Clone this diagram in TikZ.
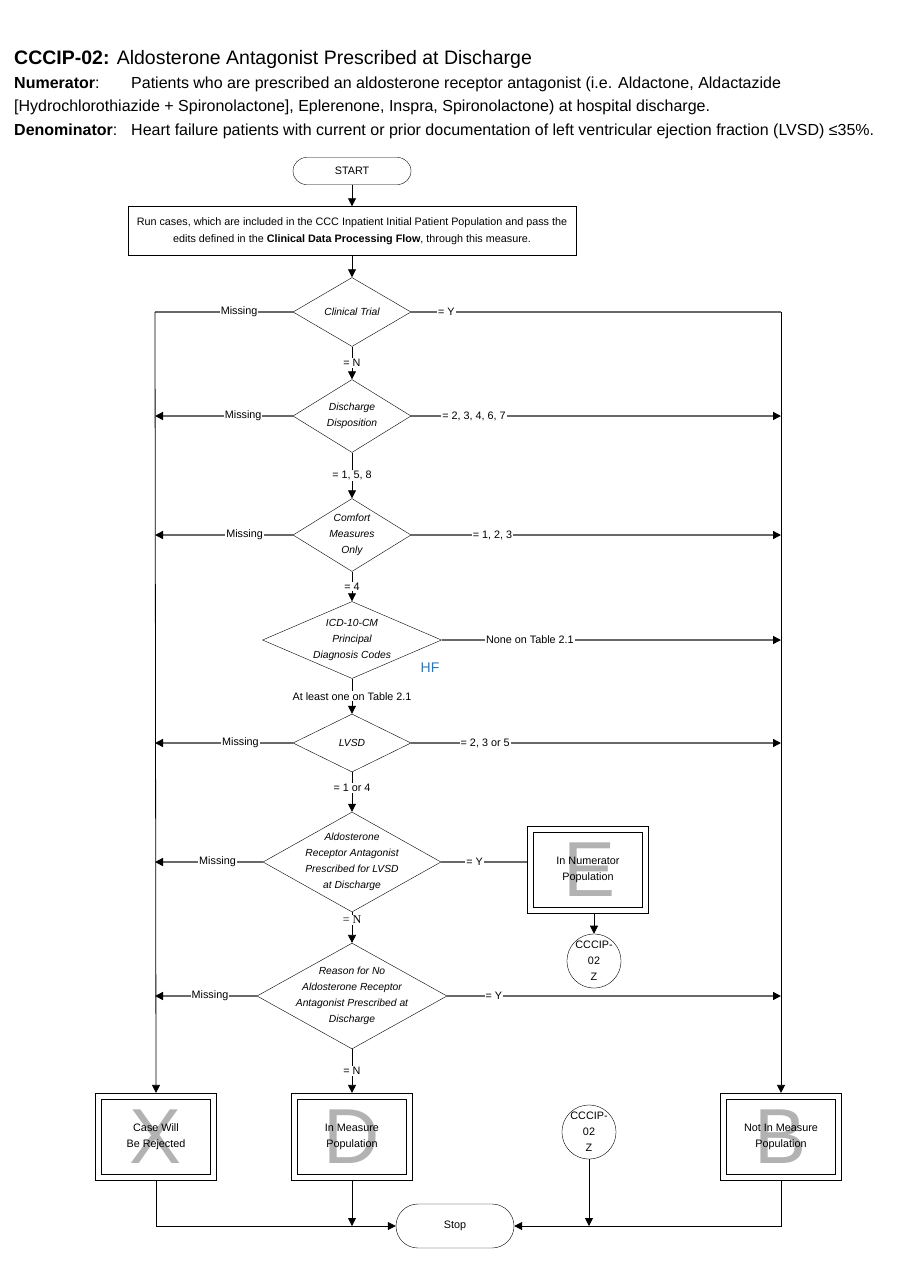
\documentclass[tikz,border=0pt]{standalone}
\usepackage{fontspec}
\setmainfont{Liberation Sans}
\newfontfamily\nserif{Liberation Serif}
\usetikzlibrary{shapes.geometric,arrows.meta}
\definecolor{hfblue}{RGB}{46,117,182}
\definecolor{branchgray}{RGB}{105,105,105}
\definecolor{lettergray}{RGB}{178,178,178}

\tikzset{
  hdr/.style={anchor=base west,inner sep=0pt,font=\fontsize{16}{18}\selectfont},
  terminal/.style={draw,rounded corners=13.5pt,minimum width=118pt,minimum height=27pt,inner sep=0pt,font=\fontsize{10.8}{12}\selectfont},
  process/.style={draw,minimum width=448pt,minimum height=49pt,inner sep=0pt,align=center,font=\fontsize{10.8}{17}\selectfont},
  decision/.style={draw,diamond,inner sep=-16pt,align=center,font=\fontsize{10.3}{16}\selectfont\itshape},
  popbox/.style={draw,double,double distance=5pt,line width=1.1pt,minimum width=115pt,minimum height=81pt,inner sep=0pt,outer sep=3.6pt,align=center,font=\fontsize{10.8}{16}\selectfont},
  bigletter/.style={text=lettergray,inner sep=0pt,font=\fontsize{78}{78}\selectfont},
  conn/.style={draw,circle,minimum size=54pt,inner sep=0pt,align=center,font=\fontsize{10.8}{16}\selectfont},
  lbl/.style={fill=white,inner sep=1pt,font=\fontsize{10.8}{12}\selectfont},
  flow/.style={line width=0.8pt,-{Triangle[length=8pt,width=8pt]}},
  branch/.style={draw=branchgray,line width=1.4pt,-{Triangle[length=8pt,width=8pt,color=black]}},
  branchline/.style={draw=branchgray,line width=1.4pt},
  rail/.style={line width=0.8pt,-{Triangle[length=8pt,width=8pt]}}
}

\begin{document}
\begin{tikzpicture}[x=1pt,y=-1pt]
\useasboundingbox (0,0) rectangle (900,1286);

% Header
\node[hdr,font=\fontsize{19.5}{22}\selectfont] (title) at (14,64) {\textbf{CCCIP-02:} Aldosterone Antagonist Prescribed at Discharge};
\node[hdr] (numlbl) at (14,88) {\textbf{Numerator}:};
\node[hdr] (numtxt) at (131,88) {Patients who are prescribed an aldosterone receptor antagonist (i.e. Aldactone, Aldactazide};
\node[hdr] (numtxt2) at (14,111) {[Hydrochlorothiazide + Spironolactone], Eplerenone, Inspra, Spironolactone) at hospital discharge.};
\node[hdr] (denlbl) at (14,135) {\textbf{Denominator}:};
\node[hdr] (dentxt) at (131,135) {Heart failure patients with current or prior documentation of left ventricular ejection fraction (LVSD) ≤35\%.};

% Main column
\node[terminal] (start) at (352,171) {START};
\node[process] (run) at (352,231) {Run cases, which are included in the CCC Inpatient Initial Patient Population and pass the\\edits defined in the \textbf{Clinical Data Processing Flow}, through this measure.};
\node[decision,minimum width=118pt,minimum height=69pt] (trial) at (352,312) {Clinical Trial};
\node[decision,minimum width=118pt,minimum height=73pt] (disp) at (352,416) {Discharge\\Disposition};
\node[decision,minimum width=118pt,minimum height=73pt] (comfort) at (352,535) {Comfort\\Measures\\Only};
\node[decision,minimum width=179pt,minimum height=77pt] (icd) at (352,640) {ICD-10-CM\\Principal\\Diagnosis Codes};
\node[text=hfblue,font=\fontsize{14}{16}\selectfont,inner sep=0pt] (hf) at (430,668) {HF};
\node[decision,minimum width=118pt,minimum height=58pt] (lvsd) at (352,743) {LVSD};
\node[decision,minimum width=178pt,minimum height=100pt] (ara) at (352,862) {Aldosterone\\Receptor Antagonist\\Prescribed for LVSD\\at Discharge};
\node[decision,minimum width=190pt,minimum height=88pt] (reason) at (352,996) {Reason for No\\Aldosterone Receptor\\Antagonist Prescribed at\\Discharge};

% Outcomes
\node[bigletter] (letE) at (590,870) {E};
\node[popbox] (numer) at (588,870) {In Numerator\\Population};
\node[conn] (cnumer) at (594,961) {CCCIP-\\02\\Z};
\node[bigletter] (letX) at (156,1137) {X};
\node[popbox] (reject) at (156,1137) {Case Will\\Be Rejected};
\node[bigletter] (letD) at (352,1137) {D};
\node[popbox] (measure) at (352,1137) {In Measure\\Population};
\node[conn] (cmeasure) at (589,1132) {CCCIP-\\02\\Z};
\node[bigletter] (letB) at (781,1137) {B};
\node[popbox] (notin) at (781,1137) {Not In Measure\\Population};
\node[terminal,minimum height=44pt,rounded corners=22pt] (stop) at (455,1226) {Stop};

% Rails
\coordinate (railL) at (155,312);
\coordinate (railR) at (781,312);

% Main flow
\draw[flow] (start) -- (run);
\draw[flow] (run) -- (trial);
\draw[flow] (trial) -- node[lbl] {= N} (disp);
\draw[flow] (disp) -- node[lbl] {= 1, 5, 8} (comfort);
\draw[flow] (comfort) -- node[lbl] {= 4} (icd);
\draw[flow] (icd) -- node[lbl] {At least one on Table 2.1} (lvsd);
\draw[flow] (lvsd) -- node[lbl,pos=0.4] {= 1 or 4} (ara);
\draw[flow] (ara) -- node[lbl,pos=0.25,font=\fontsize{12}{12}\nserif] {= N} (reason);
\draw[flow] (reason) -- node[lbl] {= N} (measure);

% Branches
\draw[branchline] (trial.west) -- node[lbl,pos=0.39] {Missing} (railL);
\draw[branchline] (trial.east) -- node[lbl,pos=0.095] {= Y} (railR);
\draw[rail] (railL) -- (reject.north);
\draw[rail] (railR) -- (notin.north);
\draw[branch] (disp.west) -- node[lbl,pos=0.36] {Missing} (disp.west -| railL);
\draw[branch] (disp.east) -- node[lbl,pos=0.17] {= 2, 3, 4, 6, 7} (disp.east -| railR);
\draw[branch] (comfort.west) -- node[lbl,pos=0.35] {Missing} (comfort.west -| railL);
\draw[branch] (comfort.east) -- node[lbl,pos=0.22] {= 1, 2, 3} (comfort.east -| railR);
\draw[branch] (icd.east) -- node[lbl,pos=0.26] {None on Table 2.1} (icd.east -| railR);
\draw[branch] (lvsd.west) -- node[lbl,pos=0.38] {Missing} (lvsd.west -| railL);
\draw[branch] (lvsd.east) -- node[lbl,pos=0.2] {= 2, 3 or 5} (lvsd.east -| railR);
\draw[branch] (ara.west) -- node[lbl,pos=0.42] {Missing} (ara.west -| railL);
\draw[branchline] (ara.east) -- node[lbl,pos=0.39] {= Y} (ara.east -| numer.west);
\draw[branch] (reason.west) -- node[lbl,pos=0.46] {Missing} (reason.west -| railL);
\draw[branch] (reason.east) -- node[lbl,pos=0.14] {= Y} (reason.east -| railR);

% To stop
\draw[flow] (numer.south -| cnumer) -- (cnumer);
\draw[flow] (reject.south) |- (stop.west);
\draw[flow] (measure.south) -- (measure.south |- stop.west);
\draw[flow] (cmeasure.south) -- (cmeasure.south |- stop.east);
\draw[flow] (notin.south) |- (stop.east);
\end{tikzpicture}
\end{document}
